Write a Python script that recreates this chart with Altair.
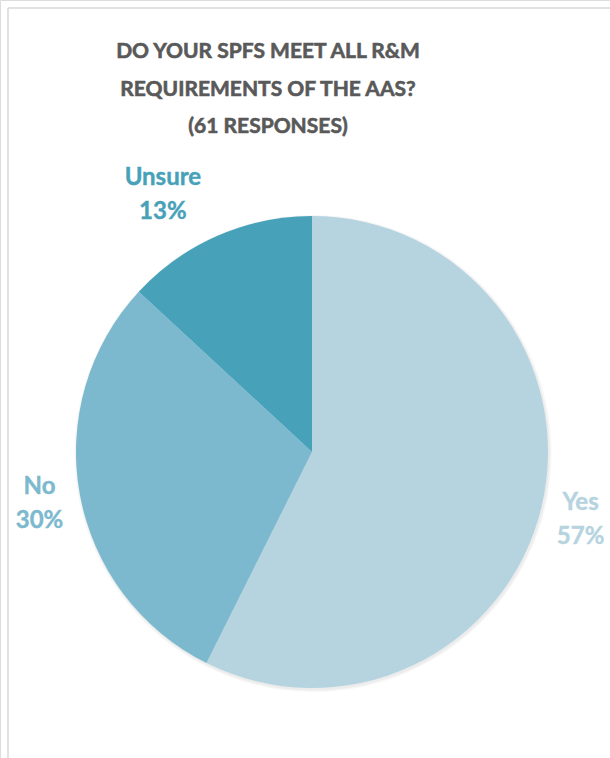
import altair as alt
import pandas as pd

categories = ["Yes", "No", "Unsure"]
counts = [35, 18, 8]          # 61 responses
order_idx = [0, 1, 2]
colors = ["#B6D4DF", "#7CB9CE", "#47A1B9"]
title_lines = ["DO YOUR SPFS MEET ALL R&M", "REQUIREMENTS OF THE AAS?", "(61 RESPONSES)"]

df = pd.DataFrame({"cat": categories, "count": counts, "idx": order_idx})

FONT = "Lato"
CX, CY, R = 312, 452, 236

base = alt.Chart(df).transform_joinaggregate(
    total="sum(count)"
).transform_calculate(
    label="datum.cat + '\\n' + format(datum.count / datum.total, '.0%')"
)

theta = alt.Theta("count:Q", stack=True)
order = alt.Order("idx:Q")
color = alt.Color("cat:N", scale=alt.Scale(domain=categories, range=colors), legend=None)

shadow1 = base.mark_arc(radius=R + 2.5, color="#000000", opacity=0.035).encode(
    theta=theta, order=order, x=alt.value(CX + 1), y=alt.value(CY + 1.5))
shadow2 = base.mark_arc(radius=R + 1, color="#000000", opacity=0.04).encode(
    theta=theta, order=order, x=alt.value(CX + 1), y=alt.value(CY + 1.5))

pie = base.mark_arc(radius=R).encode(
    theta=theta, order=order, color=color,
    x=alt.value(CX), y=alt.value(CY)
)

def label_layer(cat, radius, dx=0, dy=0):
    return base.mark_text(
        radius=radius, dx=dx, dy=dy, font=FONT, fontSize=24, fontWeight="bold",
        lineBreak="\n", lineHeight=34, align="center", baseline="middle",
        strokeWidth=0.4
    ).encode(
        theta=theta, order=order, color=color, stroke=color,
        x=alt.value(CX), y=alt.value(CY),
        text=alt.condition(alt.datum.cat == cat, "label:N", alt.value(""))
    )

labels = [
    label_layer("Yes", 276, 0, -12),
    label_layer("No", 277, 0, -15),
    label_layer("Unsure", 280, -37, -17),
]

one = alt.Data(values=[{}])
title = alt.Chart(one).mark_text(
    font=FONT, fontSize=21, fontWeight="bold", color="#595959",
    stroke="#595959", strokeWidth=0.6,
    align="center", baseline="alphabetic", lineBreak="\n", lineHeight=37.5
).encode(
    x=alt.value(268), y=alt.value(58),
    text=alt.value("\n".join(title_lines))
)

frame_top = alt.Chart(one).mark_rule(color="#D9D9D9", strokeWidth=1.5).encode(
    x=alt.value(8), x2=alt.value(610), y=alt.value(8))
frame_left = alt.Chart(one).mark_rule(color="#D9D9D9", strokeWidth=1.5).encode(
    x=alt.value(8), y=alt.value(8), y2=alt.value(758))

chart = alt.layer(
    frame_top, frame_left, shadow1, shadow2, pie, *labels, title
).properties(
    width=610, height=758, padding=0,
    autosize=alt.AutoSizeParams(type="none")
).configure_view(stroke=None).configure(background="white")

chart.save("out.html", embed_options={"renderer": "svg", "actions": False})
